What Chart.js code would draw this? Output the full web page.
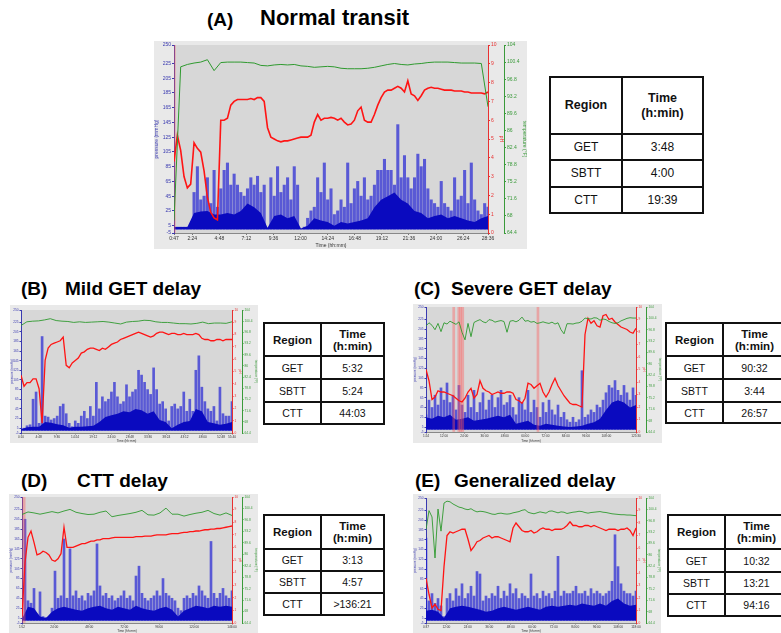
<!DOCTYPE html>
<html>
<head>
<meta charset="utf-8">
<script src="https://cdn.jsdelivr.net/npm/chart.js@4.4.0/dist/chart.umd.min.js"></script>
<style>
  body { margin: 0; width: 781px; height: 633px; overflow: hidden; background: #fff; position: relative;
         font-family: "Liberation Sans", Arial, sans-serif; }
  .t { position: absolute; font-weight: bold; white-space: nowrap; color: #000; line-height: 1; }
  canvas { position: absolute; }
  .tbl { position: absolute; display: grid; gap: 2px; padding: 2px; background: #111; box-sizing: content-box; }
  .tbl div { background: #fff; display: flex; align-items: center; justify-content: center; text-align: center; color: #111; }
  .tbl .h { font-weight: bold; }
</style>
</head>
<body>
<div class="t" style="left:207px;top:10px;font-size:19px">(A)</div>
<div class="t" style="left:260px;top:7px;font-size:22px">Normal transit</div>
<div class="t" style="left:21px;top:279px;font-size:19px">(B)</div>
<div class="t" style="left:65px;top:279px;font-size:19px">Mild GET delay</div>
<div class="t" style="left:414px;top:279px;font-size:19px">(C)</div>
<div class="t" style="left:451px;top:279px;font-size:19px">Severe GET delay</div>
<div class="t" style="left:21px;top:471px;font-size:19px">(D)</div>
<div class="t" style="left:77px;top:471px;font-size:19px">CTT delay</div>
<div class="t" style="left:415px;top:471px;font-size:19px">(E)</div>
<div class="t" style="left:454px;top:471px;font-size:19px">Generalized delay</div>

<canvas id="cA"></canvas>
<canvas id="cB"></canvas>
<canvas id="cC"></canvas>
<canvas id="cD"></canvas>
<canvas id="cE"></canvas>

<script>
Chart.defaults.font.family = '"Liberation Sans", Arial, sans-serif';

// shared axes
const pressureTicks = [-5, 5, 25, 45, 65, 85, 105, 125, 145, 165, 185, 205, 225, 250];
const phTicks = [0, 1, 2, 3, 4, 5, 6, 7, 8, 9, 10];
const tempTicks = [64.4, 68, 71.6, 75.2, 78.8, 82.4, 86, 89.6, 93.2, 96.8, 100.4, 104];
const regions = ['GET', 'SBTT', 'CTT'];

// (A) Normal transit - times in minutes
const rangeA = [47, 1716];
const ticksA = [47, 144, 288, 432, 576, 720, 864, 1008, 1152, 1296, 1440, 1584, 1716];
const peakA = [3, 3, 3, 3, 3, 4, 50, 85, 40, 45, 70, 35, 80, 30, 55, 80, 90, 60, 75, 60, 50, 45, 55, 70, 60, 72, 50, 60, 0, 70,
  45, 85, 50, 60, 70, 40, 85, 60, 0, 3, 15, 25, 30, 70, 50, 90, 40, 55, 20, 25, 40, 30, 90, 35, 55, 65, 45, 70, 40, 45,
  60, 80, 80, 95, 80, 80, 60, 142, 70, 100, 70, 55, 70, 102, 85, 95, 55, 40, 35, 30, 65, 35, 30, 25, 70, 40, 45, 80, 35, 90,
  40, 25, 20, 35, 30];
const baseA = [3, 3, 3, 22, 24, 25, 20, 20, 22, 20, 25, 35, 30, 22, 2, 18, 20, 15, 18, 1, 5, 15, 12, 10, 5, 10, 8, 10, 12, 15,
  30, 40, 45, 50, 40, 35, 25, 22, 15, 18, 20, 15, 18, 15, 12, 10, 15, 18];
const phA = [3.8, 5.2, 4.4, 3.0, 2.4, 2.6, 4.8, 4.5, 4.3, 3.3, 1.9, 1.1, 0.8, 0.7, 6.0, 6.0, 6.1, 6.8, 7.0, 7.1, 7.1, 7.1, 7.1,
  7.15, 7.1, 7.2, 7.2, 7.0, 5.6, 5.1, 5.0, 4.9, 4.85, 4.9, 4.9, 4.95, 5.0, 5.05, 5.1, 5.1, 5.1, 5.2, 5.9, 6.3, 6.0, 6.1, 6.1,
  6.15, 6.1, 6.0, 6.1, 5.9, 5.75, 5.8, 6.0, 6.5, 6.7, 6.0, 5.9, 5.9, 6.3, 6.8, 7.2, 7.5, 7.6, 7.6, 7.7, 7.8, 7.7, 7.5, 8.1,
  7.4, 7.3, 7.05, 7.3, 7.6, 7.7, 7.75, 7.7, 7.7, 7.65, 7.6, 7.6, 7.6, 7.55, 7.55, 7.55, 7.5, 7.5, 7.45, 7.45, 7.45, 7.45,
  7.4, 7.5];
const tempA = [67, 99.4, 99.9, 100.2, 100.4, 100.9, 98.6, 100.3, 100.4, 100.4, 100.4, 100.3, 100.2, 99.7, 99.6, 99.8, 99.9,
  99.8, 99.9, 99.6, 99.5, 99.3, 99.4, 99.5, 99.4, 99.1, 99.0, 99.0, 99.0, 99.1, 99.3, 99.6, 99.9, 100.1, 99.9, 99.8, 100.0,
  100.1, 100.3, 100.4, 100.4, 100.4, 100.3, 100.2, 100.2, 100.2, 100.1, 91];
const artA = [50];
const timesA = ['3:48', '4:00', '19:39'];

// (B) Mild GET delay
const rangeB = [10, 3340];
const ticksB = [10, 288, 576, 864, 1152, 1440, 1728, 2016, 2304, 2592, 2880, 3168, 3340];
const peakB = [4, 5, 10, 12, 65, 80, 15, 195, 30, 28, 22, 25, 30, 50, 55, 35, 15, 8, 20, 15, 30, 40, 25, 50, 30, 100, 45, 70,
  60, 65, 80, 100, 70, 55, 60, 95, 70, 80, 85, 125, 115, 100, 85, 75, 130, 85, 55, 60, 45, 20, 50, 55, 45, 50, 80, 40, 65,
  40, 125, 155, 90, 60, 45, 40, 50, 20, 90, 35, 30, 30, 60];
const baseB = [3, 7, 8, 8, 18, 16, 13, 11, 6, 8, 8, 9, 10, 18, 28, 32, 35, 40, 38, 45, 42, 35, 40, 22, 18, 5, 12, 18, 20, 45,
  40, 18, 15, 12, 14, 18];
const phB = [4.7, 3.8, 4.1, 4.1, 4.4, 4.4, 3.6, 0.8, 5.9, 6.9, 7.2, 7.3, 7.4, 7.5, 7.8, 5.5, 5.3, 5.7, 5.9, 6.1, 6.5, 6.6, 6.8,
  6.9, 6.9, 6.8, 6.7, 6.9, 6.8, 7.0, 7.2, 7.3, 7.4, 7.6, 7.7, 7.8, 7.9, 8.0, 8.1, 8.2, 8.1, 8.0, 7.9, 7.8, 7.9, 8.1, 8.2, 8.2,
  8.1, 8.0, 8.1, 8.1, 8.0, 8.0, 8.1, 8.0, 8.0, 8.0, 8.1, 8.0, 7.7, 7.6, 7.6, 7.5, 7.5, 7.6, 7.6, 7.5, 7.6, 7.6, 7.6];
const tempB = [99.0, 100.2, 100.4, 100.5, 100.8, 101.2, 100.6, 100.4, 100.3, 100.0, 100.2, 100.0, 100.1, 100.2, 100.3, 100.1,
  99.8, 99.5, 100.1, 100.3, 100.4, 100.7, 100.6, 100.2, 100.0, 100.0, 99.8, 99.6, 99.6, 99.5, 99.7, 100.1, 99.6, 99.8, 99.8,
  99.7, 100.2];
const artB = [];
const timesB = ['5:32', '5:24', '44:03'];

// (C) Severe GET delay
const rangeC = [84, 7530];
const ticksC = [84, 720, 1440, 2160, 2880, 3600, 4320, 5040, 5760, 6480, 7530];
const peakC = [30, 60, 45, 70, 50, 85, 60, 95, 55, 70, 40, 90, 50, 35, 70, 45, 80, 35, 55, 75, 40, 60, 70, 45, 65, 80, 50, 55,
  70, 45, 30, 65, 55, 40, 80, 35, 60, 45, 25, 55, 35, 60, 40, 30, 50, 25, 35, 20, 15, 25, 15, 20, 120, 25, 30, 40, 35, 50,
  45, 60, 75, 90, 85, 100, 80, 70, 90, 75, 60, 85, 70];
const baseC = [25, 22, 28, 25, 30, 20, 22, 25, 18, 20, 22, 25, 28, 25, 30, 12, 15, 18, 10, 8, 12, 10, 8, 6, 5, 6, 8, 12, 15,
  22, 40, 55, 60, 55, 45, 50];
const phC = [5.0, 4.1, 2.6, 2.8, 3.3, 3.2, 3.2, 3.1, 3.0, 2.9, 2.7, 2.5, 2.4, 2.7, 3.2, 3.5, 2.7, 3.0, 4.1, 3.5, 3.3, 3.2, 3.0,
  3.1, 3.2, 3.1, 3.1, 3.2, 3.2, 3.1, 2.6, 2.5, 2.3, 2.7, 3.9, 3.8, 3.5, 3.7, 3.9, 3.2, 2.8, 3.2, 3.8, 4.3, 3.7, 3.3, 2.9, 2.6,
  2.3, 2.2, 2.2, 2.1, 2.0, 7.8, 9.1, 8.7, 8.9, 8.5, 8.4, 9.3, 9.4, 9.0, 9.1, 8.8, 8.6, 8.4, 8.3, 8.2, 8.0, 7.9, 8.3];
const tempC = [98.0, 99.0, 98.2, 96.8, 98.8, 96.2, 99.0, 98.6, 99.5, 99.0, 98.5, 99.3, 96.0, 93.6, 98.8, 94.6, 99.1, 99.6,
  100.0, 99.3, 99.0, 100.0, 99.8, 99.2, 99.5, 99.7, 99.4, 96.0, 99.5, 99.7, 99.3, 99.8, 100.8, 99.5, 99.7, 99.2, 99.4, 98.8,
  99.0, 99.3, 99.0, 98.8, 99.2, 98.6, 99.0, 96.8, 95.5, 98.7, 98.7, 98.6, 98.9, 99.0, 99.5, 100.5, 100.3, 100.2, 100.6, 100.5,
  99.8, 100.2, 100.0, 99.4, 99.0, 98.8, 99.0, 99.6, 100.0, 100.4, 100.6, 100.5, 100.5];
const artC = [1067, 1246, 1313, 1387, 4053];
const timesC = ['90:32', '3:44', '26:57'];

// (D) CTT delay
const rangeD = [112, 8760];
const ticksD = [112, 1440, 2880, 4320, 5760, 7200, 8760];
const peakD = [5, 205, 40, 35, 65, 12, 58, 8, 6, 5, 25, 100, 45, 50, 165, 45, 145, 50, 60, 45, 50, 40, 55, 50, 60, 155, 70,
  50, 55, 45, 50, 40, 45, 50, 60, 45, 50, 40, 90, 110, 55, 45, 40, 45, 50, 60, 50, 85, 55, 50, 45, 40, 25, 20, 45, 50, 45,
  55, 50, 70, 60, 50, 45, 160, 55, 45, 55, 65, 50, 45, 60];
const baseD = [3, 28, 25, 8, 5, 18, 25, 28, 25, 22, 20, 25, 28, 30, 25, 22, 28, 25, 22, 30, 25, 22, 20, 25, 28, 22, 8, 20, 25,
  30, 28, 25, 30, 28, 30, 28];
const phD = [0.5, 4.8, 6.8, 7.3, 6.4, 5.4, 5.5, 5.7, 5.6, 5.4, 5.0, 4.9, 5.1, 5.5, 7.6, 6.0, 6.0, 6.0, 6.1, 6.2, 6.3, 6.3, 6.4,
  6.5, 6.5, 6.6, 6.6, 6.7, 6.7, 6.7, 6.75, 6.8, 6.8, 6.8, 6.8, 6.8, 6.8, 6.8, 6.85, 6.85, 6.85, 6.9, 6.9, 6.9, 6.95, 7.0, 7.0,
  7.0, 7.0, 7.05, 7.1, 7.1, 7.1, 7.15, 7.2, 7.2, 7.25, 7.25, 7.3, 7.3, 7.35, 7.4, 7.4, 7.45, 7.45, 7.5, 7.5, 7.55, 7.6, 7.65,
  7.7];
const tempD = [98.5, 99.3, 99.0, 98.6, 99.0, 99.4, 99.0, 99.6, 100.1, 99.2, 98.8, 98.5, 98.6, 99.2, 99.6, 97.8, 98.2, 98.5,
  98.8, 99.2, 99.8, 98.4, 98.3, 99.0, 100.5, 98.6, 98.6, 98.0, 98.5, 98.9, 99.2, 99.8, 98.8, 98.3, 99.0, 98.2];
const artD = [181];
const timesD = ['3:13', '4:57', '>136:21'];

// (E) Generalized delay
const rangeE = [37, 7080];
const ticksE = [37, 720, 1440, 2160, 2880, 3600, 4320, 5040, 5760, 6480, 7080];
const peakE = [168, 40, 55, 35, 45, 30, 8, 45, 55, 40, 65, 50, 75, 45, 55, 70, 50, 100, 95, 40, 50, 45, 55, 50, 70, 45, 60,
  50, 75, 55, 65, 45, 55, 50, 45, 95, 50, 55, 45, 60, 50, 55, 45, 60, 131, 50, 60, 55, 55, 60, 70, 55, 55, 60, 50, 65, 55,
  60, 55, 50, 55, 60, 80, 175, 110, 75, 60, 55, 55, 50, 60];
const baseE = [20, 22, 18, 5, 25, 28, 30, 28, 25, 22, 18, 20, 25, 28, 25, 22, 25, 28, 25, 22, 28, 30, 28, 30, 32, 30, 35, 32,
  30, 35, 30, 40, 45, 35, 30, 32];
const phE = [3.6, 2.3, 1.2, 1.5, 1.1, 1.0, 4.5, 7.0, 7.3, 7.2, 7.3, 7.4, 7.5, 7.5, 6.7, 5.8, 6.1, 6.5, 6.6, 6.8, 6.9, 7.0, 6.8,
  6.9, 6.9, 6.8, 6.7, 6.6, 6.5, 7.6, 8.0, 7.7, 7.4, 7.3, 7.3, 7.4, 7.2, 7.3, 7.5, 7.6, 7.5, 7.5, 7.4, 7.5, 7.5, 7.5, 7.6, 7.8,
  8.1, 7.8, 7.8, 7.7, 7.7, 7.8, 7.8, 7.7, 7.8, 7.7, 7.6, 7.5, 7.4, 7.5, 7.5, 7.5, 7.4, 7.5, 7.5, 7.6, 7.4, 7.0, 7.6];
const tempE = [94, 100.0, 98.0, 85, 100.5, 93.5, 102.4, 103.0, 102.8, 102.1, 101.6, 101.1, 100.9, 100.5, 100.3, 100.6, 100.0,
  99.6, 99.8, 99.7, 99.5, 99.2, 98.9, 98.8, 99.1, 99.2, 99.0, 98.9, 99.0, 99.3, 99.5, 99.7, 100.1, 100.3, 99.5, 99.2, 99.0,
  99.3, 99.6, 99.4, 99.2, 99.8, 99.9, 99.6, 99.3, 99.6, 99.5, 99.1, 99.3, 99.5, 99.6, 99.8, 99.7, 99.4, 99.2, 99.4, 99.5,
  99.6, 99.7, 99.5, 99.4, 99.2, 99.0, 98.9, 98.8, 98.7, 98.7, 98.6, 98.6, 98.5, 98.4];
const artE = [];
const timesE = ['10:32', '13:21', '94:16'];

// where each panel's picture sits on the page
const boxes = {
  A: { left: 154, top: 41, w: 373, h: 208, yL: 20, ph: 16, tp: 23, pad: 4, xH: 16, fs: 5, tl: 2, peakW: 2.4, artW: 1.5, phW: 1.6, tW: 1 },
  B: { left: 10, top: 305, w: 248, h: 138, yL: 11, ph: 10, tp: 16, pad: 5, xH: 10, fs: 3.2, tl: 1.5, peakW: 2, artW: 2, phW: 1.3, tW: 0.9 },
  C: { left: 413, top: 304, w: 249, h: 139, yL: 13, ph: 10, tp: 16, pad: 3, xH: 11, fs: 3.2, tl: 1.5, peakW: 2, artW: 2, phW: 1.3, tW: 0.9 },
  D: { left: 9, top: 494, w: 249, h: 139, yL: 13, ph: 10, tp: 16, pad: 3, xH: 10, fs: 3.2, tl: 1.5, peakW: 2, artW: 3, phW: 1.3, tW: 0.9 },
  E: { left: 413, top: 494, w: 248, h: 139, yL: 13, ph: 10, tp: 15, pad: 4, xH: 10, fs: 3.2, tl: 1.5, peakW: 2, artW: 2, phW: 1.3, tW: 0.9 }
};

const tableBoxes = {
  A: { left: 549, top: 76, cols: [70, 79], rows: [55, 24, 25, 24], hf: 12.5, vf: 12, lh: 15 },
  B: { left: 263, top: 322, cols: [55, 61], rows: [31, 21, 21, 20], hf: 11.5, vf: 10.5, lh: 12 },
  C: { left: 665, top: 322, cols: [55, 61], rows: [31, 21, 21, 19], hf: 11.5, vf: 10.5, lh: 12 },
  D: { left: 263, top: 514, cols: [55, 61], rows: [32, 20, 20, 20], hf: 11.5, vf: 10.5, lh: 12 },
  E: { left: 667, top: 514, cols: [55, 61], rows: [32, 21, 20, 20], hf: 11.5, vf: 10.5, lh: 12 }
};

const panels = {
  A: { range: rangeA, ticks: ticksA, peak: peakA, base: baseA, ph: phA, temp: tempA, art: artA, times: timesA },
  B: { range: rangeB, ticks: ticksB, peak: peakB, base: baseB, ph: phB, temp: tempB, art: artB, times: timesB },
  C: { range: rangeC, ticks: ticksC, peak: peakC, base: baseC, ph: phC, temp: tempC, art: artC, times: timesC },
  D: { range: rangeD, ticks: ticksD, peak: peakD, base: baseD, ph: phD, temp: tempD, art: artD, times: timesD },
  E: { range: rangeE, ticks: ticksE, peak: peakE, base: baseE, ph: phE, temp: tempE, art: artE, times: timesE }
};

// samples are evenly spaced over the recording
function spread(values, range) {
  const step = (range[1] - range[0]) / (values.length - 1);
  return values.map((v, i) => ({ x: range[0] + i * step, y: v }));
}

function hm(m) {
  m = Math.round(m);
  return Math.floor(m / 60) + ':' + String(m % 60).padStart(2, '0');
}

const background = {
  id: 'background',
  beforeDraw(chart) {
    const { ctx, chartArea: a, width, height } = chart;
    ctx.save();
    ctx.fillStyle = '#e9e9e9';
    ctx.fillRect(0, 0, width, height);
    ctx.fillStyle = '#d7d7d7';
    ctx.fillRect(a.left, a.top, a.right - a.left, a.bottom - a.top);
    ctx.restore();
  }
};

function yAxis(L, opts) {
  return {
    axis: 'y',
    position: opts.position,
    weight: opts.weight || 0,
    min: opts.min,
    max: opts.max,
    afterBuildTicks: s => { s.ticks = opts.ticks.map(v => ({ value: v })); },
    afterFit: s => { s.width = opts.width; },
    ticks: { color: opts.color, font: { size: L.fs }, padding: 1, callback: v => v },
    grid: { drawOnChartArea: false, tickLength: L.tl, color: opts.color },
    border: { color: opts.color },
    title: { display: true, text: opts.title, color: opts.color, font: { size: L.fs }, padding: 0 }
  };
}

function makeChart(key) {
  const d = panels[key];
  const L = boxes[key];
  const el = document.getElementById('c' + key);
  el.width = L.w;
  el.height = L.h;
  el.style.left = L.left + 'px';
  el.style.top = L.top + 'px';

  new Chart(el, {
    type: 'bar',
    data: {
      datasets: [
        { type: 'line', data: spread(d.temp, d.range), yAxisID: 'temp', borderColor: '#2f9a2f', borderWidth: L.tW,
          pointRadius: 0, tension: 0, order: 0 },
        { type: 'line', data: spread(d.ph, d.range), yAxisID: 'ph', borderColor: '#ff1414', borderWidth: L.phW,
          pointRadius: 0, tension: 0, order: 1 },
        { type: 'bar', data: d.art.map(t => ({ x: t, y: [0, 10] })), yAxisID: 'ph',
          backgroundColor: 'rgba(255,90,90,0.4)', barThickness: L.artW, grouped: false, order: 2 },
        // dense low pressure activity
        { type: 'line', data: spread(d.base, d.range), yAxisID: 'p', borderWidth: 0, borderColor: 'rgba(0,0,0,0)',
          backgroundColor: '#0a0abf', fill: 'origin', pointRadius: 0, tension: 0, order: 3 },
        // contraction peaks
        { type: 'bar', data: spread(d.peak, d.range), yAxisID: 'p', backgroundColor: 'rgba(30,30,212,0.68)',
          barThickness: L.peakW, grouped: false, order: 4 }
      ]
    },
    options: {
      responsive: false,
      animation: false,
      events: [],
      layout: { padding: { top: L.pad, left: 0, right: 0, bottom: 0 } },
      plugins: { legend: { display: false }, tooltip: { enabled: false } },
      scales: {
        x: {
          type: 'linear', min: d.range[0], max: d.range[1], offset: false,
          afterBuildTicks: s => { s.ticks = d.ticks.map(v => ({ value: v })); },
          afterFit: s => { s.height = L.xH; },
          ticks: { autoSkip: false, maxRotation: 0, color: '#333', font: { size: L.fs }, padding: 1, callback: v => hm(v) },
          grid: { drawOnChartArea: false, offset: false, tickLength: L.tl, color: '#777' },
          border: { color: '#888' },
          title: { display: true, text: 'Time (hh:mm)', color: '#333', font: { size: L.fs }, padding: 0 }
        },
        p: yAxis(L, { position: 'left', min: -5, max: 250, ticks: pressureTicks, width: L.yL, color: '#3a3ab0', title: 'pressure (mmHg)' }),
        ph: yAxis(L, { position: 'right', weight: 0, min: 0, max: 10, ticks: phTicks, width: L.ph, color: '#e83030', title: 'pH' }),
        temp: yAxis(L, { position: 'right', weight: 1, min: 64.4, max: 104, ticks: tempTicks, width: L.tp, color: '#3a9a3a', title: 'temperature (°F)' })
      }
    },
    plugins: [background]
  });
}

function makeTable(key) {
  const T = tableBoxes[key];
  const div = document.createElement('div');
  div.className = 'tbl';
  div.style.left = T.left + 'px';
  div.style.top = T.top + 'px';
  div.style.gridTemplateColumns = T.cols.map(c => c + 'px').join(' ');
  div.style.gridTemplateRows = T.rows.map(r => r + 'px').join(' ');
  const cells = [['Region', 'Time\n(h:min)']].concat(regions.map((r, i) => [r, panels[key].times[i]]));
  cells.forEach((row, ri) => {
    row.forEach(txt => {
      const c = document.createElement('div');
      if (ri === 0) c.className = 'h';
      c.style.fontSize = (ri === 0 ? T.hf : T.vf) + 'px';
      c.style.lineHeight = T.lh + 'px';
      c.style.whiteSpace = 'pre-line';
      c.textContent = txt;
      div.appendChild(c);
    });
  });
  document.body.appendChild(div);
}

['A', 'B', 'C', 'D', 'E'].forEach(k => { makeChart(k); makeTable(k); });
</script>
</body>
</html>
